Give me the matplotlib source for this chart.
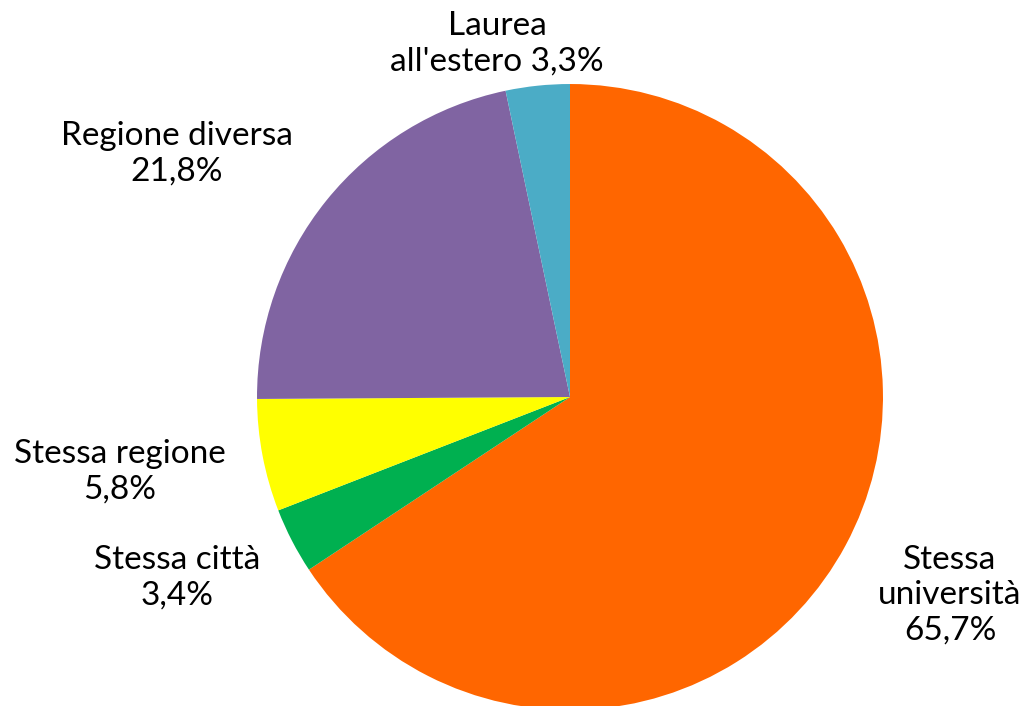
import matplotlib.pyplot as plt

# share of graduates by where they got their first degree
categories = ["Stessa\nuniversità", "Stessa città", "Stessa regione", "Regione diversa", "Laurea\nall'estero"]
values = [65.7, 3.4, 5.8, 21.8, 3.3]
colors = ["#FF6600", "#00B050", "#FFFF00", "#8064A2", "#4BACC6"]

# label anchor points, in pie radius units
label_pos = [(1.214, -0.633), (-1.256, -0.578), (-1.438, -0.240), (-1.256, 0.776), (-0.233, 1.128)]

plt.rcParams['font.family'] = ['Lato', 'DejaVu Sans']

fig = plt.figure(figsize=(10.26, 7.06), dpi=100)
ax = fig.add_axes([0.2505, -0.00567, 0.6101, 0.8867])

ax.pie(values, colors=colors, startangle=90, counterclock=False, radius=1,
       wedgeprops={"linewidth": 0})
ax.set_xlim(-1, 1)
ax.set_ylim(-1, 1)
ax.set_aspect("equal")
ax.axis("off")

for name, val, (x, y) in zip(categories, values, label_pos):
    pct = f"{val:.1f}%".replace(".", ",")
    if name.startswith("Laurea"):
        txt = "Laurea\nall'estero " + pct
    else:
        txt = name + "\n" + pct
    ax.text(x, y, txt, ha="center", va="center", fontsize=24,
            linespacing=1.22, clip_on=False)

fig.savefig("out.png", dpi=100)
